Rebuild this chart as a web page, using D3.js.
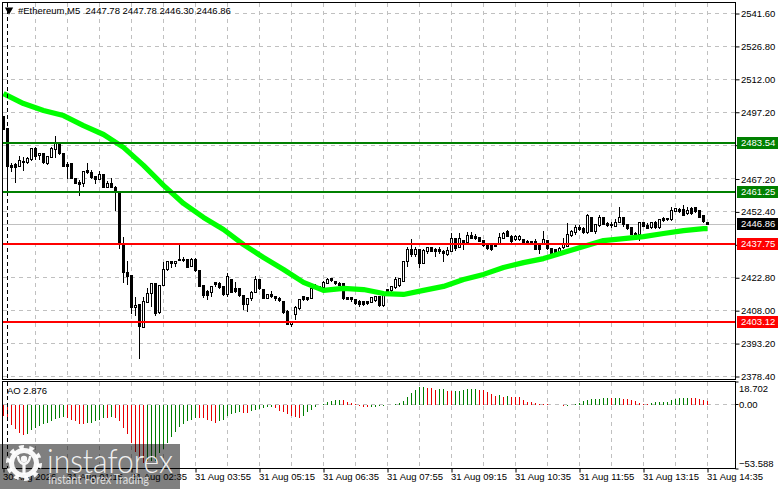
<!DOCTYPE html>
<html><head><meta charset="utf-8">
<script src="https://cdnjs.cloudflare.com/ajax/libs/d3/7.8.5/d3.min.js"></script>
<style>html,body{margin:0;padding:0;background:#fff}svg{display:block}
text{font-family:"Liberation Sans",sans-serif;font-size:9.5px;fill:#000;white-space:pre}</style></head>
<body><svg id="c" width="781" height="489"></svg>
<script>
const opens=[2495.3,2489.7,2473.2,2473.7,2472.8,2475.2,2474.7,2475.8,2481,2477.6,
2478.5,2474,2477,2480.3,2483.3,2478.5,2473.7,2474,2467.2,2465.7,
2465,2471,2470.2,2468.3,2467.1,2469,2463.5,2465.1,2463.5,2460.8,
2437.7,2425.2,2423.7,2409.5,2410.7,2400.5,2411.7,2415.5,2420.1,2407,
2419.2,2426.3,2430,2429,2431.2,2431.2,2431,2428,2431.2,2426,
2419.3,2416.5,2416,2420.8,2420,2419,2415.2,2421.8,2417.8,2418,
2414.8,2410.7,2413.3,2416.3,2422.1,2417.5,2413.6,2415.2,2414.3,2413.6,
2412.2,2407.7,2402,2406.2,2408.8,2414.3,2414,2413.6,2419.5,2418.8,
2418.5,2420.3,2422.3,2421.2,2420.3,2420,2413.7,2413.7,2413,2412,
2412,2412,2411.8,2412.5,2414.3,2410.3,2417.3,2417,2418.5,2419.3,
2421.2,2430.2,2435.3,2433.2,2435.3,2429.3,2434.4,2436.2,2435.3,2435.3,
2434.7,2433.2,2434.7,2440.3,2436.5,2439.5,2438.5,2441.8,2441.3,2440.7,
2439.5,2437.6,2437.3,2436.8,2438.3,2440.3,2443.7,2441.5,2440,2439.8,
2440,2439.2,2439,2439.2,2437.7,2437.7,2439.5,2435.8,2435.3,2434.7,
2436.2,2436.8,2441.8,2443.3,2445.5,
2445,2443.3,2449.7,2443.7,2446.3,2449.7,2447,2446.7,2446,2447.8,
2449.7,2446.7,2445.5,2442.8,2442.2,2447.5,2446.5,2445.2,2447.8,2445.2,
2449.5,2449.5,2448.8,2452.7,2453.6,2453.3,2451.5,2453.8,2454.2,2453,2450.8,2447.78];
const highs=[2495.3,2489.7,2474.3,2474.3,2477.7,2477,2477,2480.7,2481.5,2478.5,
2478.8,2477.7,2481.5,2486.7,2483.7,2478.8,2475,2474.3,2467.2,2466.8,
2471,2474.3,2471.3,2468.3,2470.7,2469.2,2466.5,2467.7,2464.2,2461.2,
2441.3,2430.2,2423.7,2414,2411,2414.3,2418.2,2420,2420.1,2419.5,
2429.7,2430.5,2430.5,2430.5,2437.7,2432,2431.2,2431.7,2431.7,2426.3,
2419.3,2417.3,2419.3,2421,2420.8,2419.3,2424.8,2422.1,2420.8,2418,
2414.8,2413.3,2416.7,2423.6,2422.3,2417.8,2415.2,2417,2414.8,2414,
2412.2,2408.3,2402.8,2410.3,2413.3,2414.6,2414.3,2418,2420,2419.1,
2421.5,2422.7,2422.7,2421.5,2420.8,2420.3,2414,2414.3,2413.3,2412.8,
2412.5,2412.5,2414.3,2414.6,2414.6,2414.8,2417.8,2419.3,2423,2422.7,
2430.5,2436.5,2440.3,2436.5,2435.8,2435.8,2436.8,2436.8,2436.2,2436.5,
2435.3,2436.5,2442.8,2440.3,2443.1,2439.8,2443.3,2443.3,2442.5,2441,
2439.8,2438.3,2438,2438,2442.8,2443.3,2444.3,2441.8,2441.8,2441.8,
2440.3,2439.8,2439.5,2440.3,2438,2444,2439.8,2435.8,2435.8,2436.5,
2440.5,2447.5,2444.3,2446.3,2446.3,
2445.5,2451.5,2450.3,2447,2450.8,2450,2447.8,2447.8,2449.3,2454.8,
2450.3,2447,2445.8,2443.3,2447.8,2447.8,2447.3,2447.8,2448.2,2449.3,
2450,2449.7,2454.8,2454.2,2454.2,2455.7,2454.5,2454.5,2454.5,2453.3,2451,2447.78];
const lows=[2489.5,2461.2,2470.2,2465.3,2472.5,2470.7,2474,2475.5,2475.8,2475.8,
2474,2473.7,2476.7,2476.7,2478.2,2472.8,2467.2,2467.2,2465,2459.7,
2463.5,2469.5,2467.2,2465,2466.8,2463.5,2463.2,2463,2453,2435.7,
2420.3,2419.7,2406.5,2405.7,2386.2,2400.5,2411.7,2409.5,2405.7,2406.5,
2419,2426,2427.2,2427.5,2430.5,2430,2427,2427.8,2425.2,2419,
2413.7,2412.8,2414,2418.8,2417.8,2414.8,2414,2415.8,2415.8,2414.3,
2408.3,2407.3,2412.5,2415.8,2417.3,2413.3,2413.3,2413.7,2412.5,2411.8,
2406.5,2402,2400.5,2404,2408.3,2412.5,2412.5,2413.3,2417.8,2417.8,
2417.8,2420,2420.8,2419.7,2419.3,2413,2412.8,2411.8,2410.7,2409.8,
2410.1,2410.7,2411.3,2412,2409.8,2409.8,2415.8,2414.8,2417.8,2418.8,
2420.8,2427.5,2432,2432,2427.2,2429,2433.5,2434.3,2432.3,2433.5,
2429.8,2432.8,2434.3,2434.7,2436.2,2435.3,2438,2440.1,2439.8,2438.8,
2436.8,2435.3,2435,2436.5,2438,2440,2441,2438,2439.5,2439.2,
2438,2438,2437.3,2435.3,2433.5,2437.3,2435.3,2432.8,2433.5,2434.3,
2435.8,2436.5,2441.3,2441.8,2443.7,
2442.5,2442.5,2443.3,2442.5,2445.8,2446.3,2445.5,2445.2,2445.5,2447.3,
2445.8,2444.3,2441.8,2441.3,2439.2,2445.5,2444.6,2444.8,2444.8,2444.8,
2447.8,2448.2,2448.5,2452.3,2452,2450.8,2450.8,2451.2,2452,2449.5,2447.5,2446.3];
const closes=[2489.5,2472.9,2472.5,2472.5,2475.5,2474.7,2476.2,2480.7,2477.4,2478.5,
2474.6,2477.3,2481,2483,2478.8,2473,2473,2467.5,2465,2464.8,
2470.5,2470.2,2467.7,2467.1,2469,2463.5,2465.1,2463.5,2461.4,2438,
2425.2,2423.4,2409.5,2410.5,2401,2412,2415.5,2420,2406.8,2419.2,
2426.3,2429.9,2429,2430.3,2430.6,2430.5,2427.5,2431.2,2426,2419,
2414.8,2414.8,2419,2419.7,2418.5,2415.2,2423.5,2416.3,2416.5,2414.8,
2410.7,2413.3,2416.3,2422.1,2417.8,2413.6,2415.2,2414.5,2413.3,2412.5,
2407.3,2402,2402.8,2409.2,2412.8,2412.8,2412.8,2417.8,2418.8,2418.2,
2420.6,2422.1,2421.5,2420,2419.3,2413.3,2413.1,2412.8,2411,2410.7,
2410.7,2411.3,2414,2414.3,2410.3,2414.8,2416.3,2418.8,2421.8,2422.3,
2430.2,2435.3,2433.2,2435.3,2429.3,2435,2436.2,2434.6,2434.6,2434.7,
2433.5,2435,2440.3,2435.8,2440.3,2438.3,2441.6,2440.4,2440.5,2439.2,
2437.3,2435.9,2435.6,2437.3,2440.7,2442.8,2441.3,2439.2,2441.3,2441.3,
2438.3,2438.3,2438.3,2435.6,2435.3,2439.8,2435.8,2433.5,2434.1,2436,
2437.6,2442.2,2443.7,2445.5,2444.3,
2443,2450.8,2443.7,2446.7,2450,2446.7,2446.3,2446.1,2447.8,2449.7,
2446.7,2444.8,2442.2,2442,2447.5,2446,2445,2447.8,2445.5,2448.8,
2448.5,2448.8,2453,2453.9,2452.4,2451,2453,2451.5,2452.5,2450,2447.9,2446.86];
const maBars=[0,5,10,15,20,25,30,35,40,45,50,55,60,65,70,75,80,85,90,95,100,105,110,115,120,125,130,135,140,145,150,155,160,165,170,175,176];
const maValues=[2505.6,2501.1,2498,2495.7,2491.2,2487.2,2481.4,2473.3,2464.3,2456.2,2449.9,2444.5,2437.7,2431.9,2426.5,2420.7,2417.1,2418,2417.5,2415.7,2415.3,2417.1,2418.9,2422,2424.3,2427.4,2429.6,2431.4,2434.1,2436.8,2439.5,2440.4,2441.3,2442.7,2444,2444.9,2444.9];
const aoValues=[-9.8,-14,-17.6,-20.4,-23.8,-26,-24.6,-21.8,-19.6,-18.2,-16.2,-15.7,-14,-12.6,-11.5,-10.6,-11.5,-13.4,-14,-16.2,-16.8,-15.7,-15.4,-14,-12.9,-11.5,-11.6,-11.2,-11.4,-14,-19.6,-24.6,-32.5,-39.5,-45.6,-49.3,-47.6,-47.2,-47,-40.9,-37.2,-32.5,-27.4,-23.2,-19,-16.2,-14,-12.9,-11.5,-11.6,-12,-12.9,-14,-15.7,-14,-12.9,-10.1,-8.4,-7.8,-7,-7.1,-7.2,-5.6,-5,-4.2,
-3.1,-2.2,-2.1,-3.6,-5.6,-7,-8.4,-10.1,-10.6,-11.5,-9.8,-7,-5,-2.2,-0.8,0.3,2,2.8,3.4,3.6,3.3,1.7,0.6,0.1,-1.7,-2.2,-2.4,-2.2,-2.1,-2,-1.9,-1.1,-0.5,0.3,0.6,2.8,6.2,9,11.8,14,14.3,13.7,12.9,12,12.1,12.2,11.2,10.9,11,11.2,11.8,12.6,12.7,12.8,11.8,11.7,9.8,8.4,7,7.1,6.2,6.7,6.2,5.6,5.5,
3.4,2,1.7,0.6,0.1,0.05,0,-0.5,-0.8,-1.1,-2,-1.7,-0.8,-0.3,1.1,2.2,3.1,4.2,4.3,4.5,4.8,5,4.8,4.9,5.1,4.2,4.1,3.4,2.5,0.8,0.3,0.1,1.1,1.4,1.7,1.8,2,3.1,4.5,5,5.1,5.2,5,4.8,4.2,3.4,2.876];
const priceTicks=[2541.6,2526.8,2512,2497.2,2482.4,2467.2,2452.4,2437.6,2422.8,2408,2393.2,2378.4];
const aoTicks=[18.702,0,-53.588];
const timeBars=[0,16,32,48,64,80,96,112,128,144,160,176];
const timeLabels=["30 Aug 2026","31 Aug 01:15","31 Aug 02:35","31 Aug 03:55","31 Aug 05:15","31 Aug 06:35","31 Aug 07:55","31 Aug 09:15","31 Aug 10:35","31 Aug 11:55","31 Aug 13:15","31 Aug 14:35"];
const gridBars=[8,16,24,32,40,48,56,64,72,80,88,96,104,112,120,128,136,144,152,160,168,176];
const separatorBar=1;
const greenLevels=[2483.54,2461.25];
const redLevels=[2437.75,2403.12];
const lastPrice=2446.86;
const title="#Ethereum,M5  2447.78 2447.78 2446.30 2446.86";
const aoTitle="AO 2.876";

const L=2.5,R=735.5,T=2.5,B=379.5,AT=381.5,AB=468.5;
const FS="9.5px";
const svg=d3.select("#c");
const x=d3.scaleLinear().domain([0,176]).range([3.5,707.5]);
const y=d3.scaleLinear().domain([2378.4,2541.6]).range([376.5,13.5]);
const ya=d3.scaleLinear().domain([-53.588,18.702]).range([AB,AT]);
const snap=v=>Math.round(v-.5)+.5;
const GRID="#c0c0c0";

const g1=svg.append("g").attr("transform",`translate(${R},0)`)
 .call(d3.axisRight(y).tickValues(priceTicks).tickSize(4).tickPadding(2).tickFormat(d3.format(".2f")));
g1.select(".domain").remove();
g1.selectAll("text").attr("font-size",null).attr("x",5.5).style("font-size",FS);
g1.selectAll("line").attr("stroke","#000");
const grid=svg.append("g").attr("shape-rendering","crispEdges").attr("stroke",GRID).attr("stroke-dasharray","4 4").attr("fill","none");
grid.selectAll("line.h").data(priceTicks).join("line").attr("x1",L).attr("x2",R).attr("y1",d=>snap(y(d))).attr("y2",d=>snap(y(d)));
grid.selectAll("line.v").data(gridBars).join("line").attr("class","v").attr("x1",d=>x(d)).attr("x2",d=>x(d)).attr("y1",T).attr("y2",B);
grid.selectAll("line.va").data(gridBars).join("line").attr("class","va").attr("x1",d=>x(d)).attr("x2",d=>x(d)).attr("y1",AT).attr("y2",AB);
grid.append("line").attr("x1",L).attr("x2",R).attr("y1",snap(ya(0))).attr("y2",snap(ya(0)));

svg.append("line").attr("x1",L).attr("x2",R).attr("y1",snap(y(lastPrice))).attr("y2",snap(y(lastPrice))).attr("stroke",GRID).attr("shape-rendering","crispEdges");

const aoG=svg.append("g").attr("shape-rendering","crispEdges");
aoG.selectAll("line").data(aoValues).join("line")
 .attr("x1",(d,i)=>x(i)).attr("x2",(d,i)=>x(i))
 .attr("y1",snap(ya(0))).attr("y2",d=>ya(d))
 .attr("stroke",(d,i)=>(i===0||d<aoValues[i-1])?"#e60000":"#007d00");

const candles=closes.map((c,i)=>({i,o:opens[i],h:highs[i],l:lows[i],c}));
const cg=svg.append("g").attr("shape-rendering","crispEdges");
cg.selectAll("line").data(candles).join("line")
 .attr("x1",d=>x(d.i)).attr("x2",d=>x(d.i)).attr("y1",d=>y(d.h)).attr("y2",d=>y(d.l)).attr("stroke","#000");
cg.selectAll("rect").data(candles).join("rect")
 .attr("x",d=>x(d.i)-1).attr("width",2)
 .attr("y",d=>snap(y(Math.max(d.o,d.c))))
 .attr("height",d=>Math.max(0,snap(y(Math.min(d.o,d.c)))-snap(y(Math.max(d.o,d.c)))))
 .attr("fill",d=>d.c<d.o?"#000":"#fff").attr("stroke","#000");

svg.append("path").datum(maValues).attr("fill","none").attr("stroke","#00ff00").attr("stroke-width",5.2)
 .attr("stroke-linejoin","round")
 .attr("d",d3.line().x((d,i)=>x(maBars[i])).y(d=>y(d)));

svg.append("g").attr("stroke","#000").attr("stroke-dasharray","4 3").attr("shape-rendering","crispEdges")
 .selectAll("line").data([[T,B],[AT,AB]]).join("line")
 .attr("x1",x(separatorBar)).attr("x2",x(separatorBar)).attr("y1",d=>d[0]).attr("y2",d=>d[1]);

const lev=svg.append("g");
const drawLevel=(v,col)=>{
 lev.append("line").attr("x1",L).attr("x2",R).attr("y1",Math.round(y(v))).attr("y2",Math.round(y(v))).attr("stroke",col).attr("stroke-width",2).attr("shape-rendering","crispEdges");
};
greenLevels.forEach(v=>drawLevel(v,"#008000"));
redLevels.forEach(v=>drawLevel(v,"#ff0000"));

svg.append("g").attr("fill","none").attr("stroke","#000").attr("shape-rendering","crispEdges")
 .selectAll("rect").data([[T,B],[AT,AB]]).join("rect").attr("x",L).attr("width",R-L).attr("y",d=>d[0]).attr("height",d=>d[1]-d[0]);

const tag=(v,col)=>{
 const yy=Math.round(y(v));
 svg.append("rect").attr("x",737).attr("y",yy-6).attr("width",41).attr("height",12).attr("fill",col);
 svg.append("text").attr("x",741).attr("y",yy+3.4).style("fill","#fff").style("font-size",FS).text(d3.format(".2f")(v));
};
greenLevels.forEach(v=>tag(v,"#008000"));
redLevels.forEach(v=>tag(v,"#ff0000"));
tag(lastPrice,"#000");

const g2=svg.append("g").attr("transform",`translate(${R},0)`)
 .call(d3.axisRight(ya).tickValues(aoTicks).tickSize(3).tickFormat(d=>d===0?"0.00":d3.format(".3f")(d)));
g2.select(".domain").remove();
g2.selectAll("line").attr("stroke","#000");
g2.selectAll("text").attr("x",3.5).style("font-size",FS)
 .attr("dy",d=>d>1?"1.0em":d<-1?"-0.2em":"0.32em");

const g3=svg.append("g").attr("transform",`translate(0,${AB})`)
 .call(d3.axisBottom(x).tickValues(timeBars).tickSize(4).tickFormat(d=>timeLabels[timeBars.indexOf(d)]));
g3.select(".domain").remove();
g3.selectAll("line").attr("stroke","#000");
g3.selectAll("text").attr("text-anchor","start").attr("x",-1).attr("y",5).style("font-size",FS);

svg.append("text").attr("x",18).attr("y",14).style("font-size",FS).text(title);
svg.append("path").attr("d",d3.symbol(d3.symbolTriangle,30)()).attr("transform","translate(9,10) rotate(180)").attr("fill","#000");
svg.append("text").attr("x",7).attr("y",394).style("font-size",FS).text(aoTitle);

const wm=svg.append("g");
wm.append("rect").attr("x",0).attr("y",444).attr("width",180).attr("height",45).attr("fill","#000").attr("fill-opacity",.5);
const gear=wm.append("g").attr("transform","translate(24,463)").attr("fill","#fff").attr("fill-opacity",.95);
gear.append("path").attr("d",d3.arc()({innerRadius:10,outerRadius:15,startAngle:0,endAngle:2*Math.PI}));
const teeth=d3.pie().value(1).padAngle(.25).startAngle(.16).endAngle(.16+2*Math.PI)(d3.range(10));
gear.selectAll("path.t").data(teeth).join("path").attr("class","t").attr("d",d3.arc().innerRadius(13).outerRadius(18));
gear.append("circle").attr("cy",-4).attr("r",3.2);
gear.append("path").attr("d","M-7.5,-7 Q-6,1 -1.6,2 L-1.6,11 L1.6,11 L1.6,2 Q6,1 7.5,-7 L5,-7 Q4,-1 0,-0.5 Q-4,-1 -5,-7Z");
wm.append("text").attr("x",47).attr("y",473).attr("textLength",126).attr("lengthAdjust","spacingAndGlyphs")
 .style("font-family","Lato").style("font-size","33px").style("font-weight","300").style("fill","#fff").style("fill-opacity",.9).text("instaforex");
wm.append("text").attr("x",48).attr("y",484).attr("textLength",101).attr("lengthAdjust","spacingAndGlyphs")
 .style("font-family","Lato").style("font-size","13px").style("fill","#fff").style("fill-opacity",.75).text("Instant Forex Trading");
</script></body></html>
